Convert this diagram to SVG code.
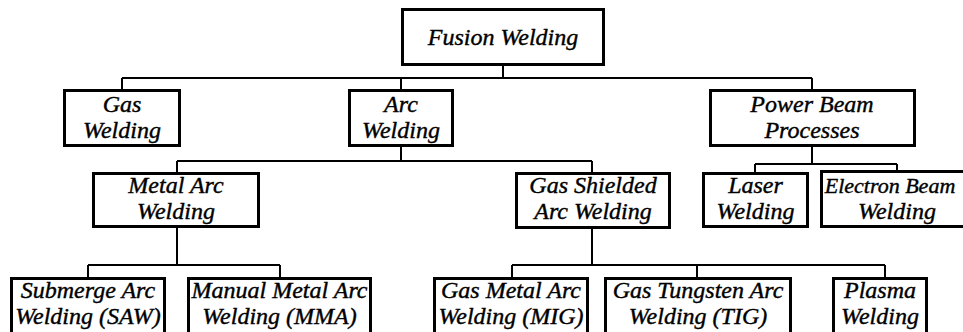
<svg xmlns="http://www.w3.org/2000/svg" width="963" height="332" viewBox="0 0 963 332">
<style>
.box{fill:#fff;stroke:#000;stroke-width:3}
.t{font-family:"Liberation Serif","Times New Roman",serif;font-style:italic;font-size:24px;fill:#000;stroke:#000;stroke-width:0.4;text-anchor:middle}
.c{fill:none;stroke:#000;stroke-width:2}
</style>
<rect width="963" height="332" fill="#fff"/>
<g id="connectors">
<path class="c" d="M503 66V78M122 78H812M122 78V89M401 78V89M812 78V89"/>
<path class="c" d="M401 147V161M177 161H592M177 161V172M592 161V172"/>
<path class="c" d="M812 147V164M755 164H897M755 164V172M897 164V170"/>
<path class="c" d="M177 228V265M88 265H280M88 265V277M280 265V277"/>
<path class="c" d="M592 229V265M512 265H885M512 265V277M697 265V277M885 265V277"/>
</g>
<g id="fusion"><rect class="box" x="402.5" y="9.5" width="201" height="55"/><text class="t" x="503" y="45">Fusion Welding</text></g>
<g id="gas"><rect class="box" x="64.5" y="90.5" width="115" height="55"/><text class="t" x="122" y="112">Gas</text><text class="t" x="122" y="138">Welding</text></g>
<g id="arc"><rect class="box" x="349.5" y="90.5" width="103" height="55"/><text class="t" x="401" y="112">Arc</text><text class="t" x="401" y="138">Welding</text></g>
<g id="powerbeam"><rect class="box" x="710.5" y="90.5" width="204" height="55"/><text class="t" x="812" y="112">Power Beam</text><text class="t" x="812" y="138">Processes</text></g>
<g id="metalarc"><rect class="box" x="93.5" y="173.5" width="165" height="53"/><text class="t" x="176" y="193">Metal Arc</text><text class="t" x="176" y="219">Welding</text></g>
<g id="gasshielded"><rect class="box" x="516.5" y="173.5" width="153" height="54"/><text class="t" x="593" y="193">Gas Shielded</text><text class="t" x="593" y="219">Arc Welding</text></g>
<g id="laser"><rect class="box" x="703.5" y="173.5" width="104" height="53"/><text class="t" x="755.5" y="193">Laser</text><text class="t" x="755.5" y="219">Welding</text></g>
<g id="electron"><rect class="box" x="821.5" y="171.5" width="160" height="55"/><text class="t" x="890" y="193" style="font-size:22px">Electron Beam</text><text class="t" x="897" y="219">Welding</text></g>
<g id="saw"><rect class="box" x="11.5" y="278.5" width="153" height="80"/><text class="t" x="88" y="298">Submerge Arc</text><text class="t" x="88" y="324">Welding (SAW)</text></g>
<g id="mma"><rect class="box" x="188.5" y="278.5" width="182" height="80"/><text class="t" x="279.5" y="298">Manual Metal Arc</text><text class="t" x="279.5" y="324">Welding (MMA)</text></g>
<g id="mig"><rect class="box" x="434.5" y="278.5" width="153" height="80"/><text class="t" x="511" y="298">Gas Metal Arc</text><text class="t" x="511" y="324">Welding (MIG)</text></g>
<g id="tig"><rect class="box" x="605.5" y="278.5" width="185" height="80"/><text class="t" x="698" y="298">Gas Tungsten Arc</text><text class="t" x="698" y="324">Welding (TIG)</text></g>
<g id="plasma"><rect class="box" x="833.5" y="278.5" width="93" height="80"/><text class="t" x="880" y="298">Plasma</text><text class="t" x="880" y="324">Welding</text></g>
</svg>
